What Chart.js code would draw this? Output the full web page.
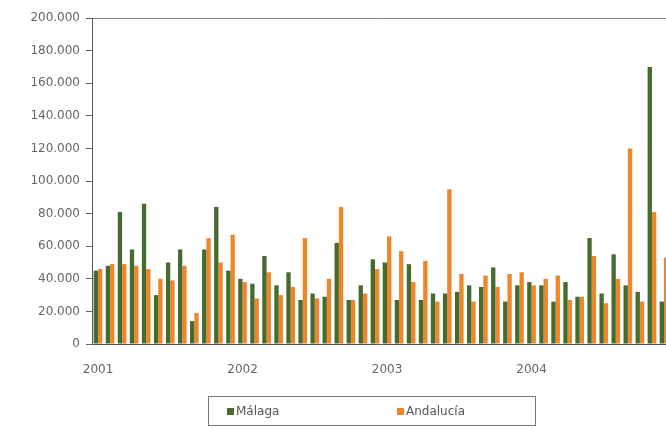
<!DOCTYPE html>
<html>
<head>
<meta charset="utf-8">
<script src="https://cdn.jsdelivr.net/npm/chart.js@4"></script>
<style>
  html, body { margin: 0; padding: 0; background: #fff; overflow: hidden; width: 666px; height: 430px; }
  #wrap { position: relative; width: 680px; height: 430px; }
  #legend {
    position: absolute; left: 208px; top: 396px; width: 328px; height: 30px;
    border: 1px solid #777; box-sizing: border-box;
    font: 12px "DejaVu Sans", sans-serif; color: #555;
  }
  #legend span { position: absolute; top: 7px; }
  #legend i { display: inline-block; width: 7px; height: 7px; margin-right: 2px; vertical-align: 0; }
</style>
</head>
<body>
<div id="wrap">
  <canvas id="chart" width="680" height="430"></canvas>
  <div id="legend">
    <span style="left:18px"><i style="background:#466b2e"></i>Málaga</span>
    <span style="left:188px"><i style="background:#f0862a"></i>Andalucía</span>
  </div>
</div>
<script>
// monthly values, thousands, Jan 2001 - Dec 2004
const years = ['2001', '2002', '2003', '2004'];
const malaga = [45, 48, 81, 58, 86, 30, 50, 58, 14, 58, 84, 45,
                40, 37, 54, 36, 44, 27, 31, 29, 62, 27, 36, 52,
                50, 27, 49, 27, 31, 31, 32, 36, 35, 47, 26, 36,
                38, 36, 26, 38, 29, 65, 31, 55, 36, 32, 170, 26];
const andalucia = [46, 49, 49, 48, 46, 40, 39, 48, 19, 65, 50, 67,
                   38, 28, 44, 30, 35, 65, 28, 40, 84, 27, 31, 46,
                   66, 57, 38, 51, 26, 95, 43, 26, 42, 35, 43, 44,
                   36, 40, 42, 27, 29, 54, 25, 40, 120, 26, 81, 53];
const yTicks = [0, 20000, 40000, 60000, 80000, 100000, 120000, 140000, 160000, 180000, 200000];

const labels = [];
years.forEach(y => { for (let m = 1; m <= 12; m++) labels.push(y + '-' + m); });

const fmt = v => v === 0 ? '0' : String(v).replace(/\B(?=(\d{3})+(?!\d))/g, '.');

new Chart(document.getElementById('chart'), {
    type: 'bar',
    data: {
        labels: labels,
        datasets: [
            { label: 'Málaga', data: malaga.map(v => v * 1000), backgroundColor: '#466b2e' },
            { label: 'Andalucía', data: andalucia.map(v => v * 1000), backgroundColor: '#f0862a' }
        ]
    },
    options: {
        responsive: false,
        animation: false,
        categoryPercentage: 0.72,
        barPercentage: 1,
        layout: { padding: { left: 0, right: 10, top: 18, bottom: 56 } },
        plugins: { legend: { display: false }, tooltip: { enabled: false } },
        scales: {
            x: {
                grid: { display: false },
                border: { color: '#555' },
                ticks: {
                    autoSkip: false, maxRotation: 0, padding: 11,
                    color: '#666', font: { family: 'DejaVu Sans', size: 12 },
                    callback: (v, i) => i % 12 === 0 ? years[i / 12] : ''
                },
                afterFit: s => { s.height = 30; }
            },
            y: {
                min: 0, max: 200000,
                afterBuildTicks: s => { s.ticks = yTicks.map(v => ({ value: v })); },
                grid: {
                    color: c => c.tick && c.tick.value === 200000 ? '#888' : 'rgba(0,0,0,0)',
                    tickColor: '#666', tickLength: 6
                },
                border: { color: '#555' },
                ticks: {
                    padding: 6, color: '#666',
                    font: { family: 'DejaVu Sans', size: 12 },
                    callback: v => fmt(v)
                },
                afterFit: s => { s.width = 92; }
            }
        }
    }
});
</script>
</body>
</html>
